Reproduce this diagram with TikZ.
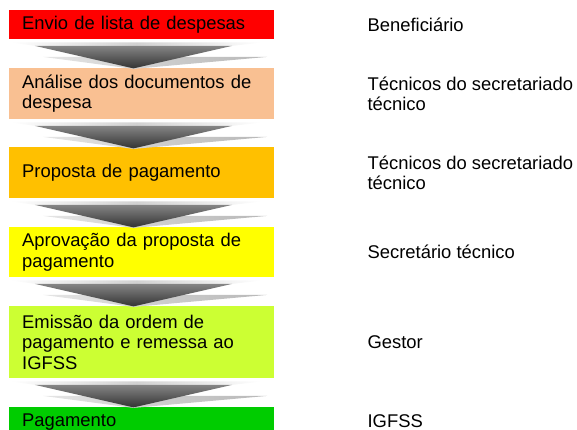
\documentclass[tikz,border=0pt]{standalone}
\usepackage{fontspec}
\setmainfont{Liberation Sans}
\usetikzlibrary{calc}
\definecolor{cRed}{HTML}{FF0000}
\definecolor{cPeach}{HTML}{F9C092}
\definecolor{cOrange}{HTML}{FFC000}
\definecolor{cYellow}{HTML}{FFFF00}
\definecolor{cLime}{HTML}{CCFF33}
\definecolor{cGreen}{HTML}{00CC00}
\tikzset{
  box/.style={rectangle, anchor=north west, minimum width=265pt, text width=239pt,
    inner xsep=13pt, inner ysep=0pt, align=left, draw=none,
    font=\fontsize{18.4}{20.7}\selectfont, text=black},
  role/.style={anchor=west, inner sep=0pt, align=left,
    font=\fontsize{18.4}{20.7}\selectfont, text=black},
}
\newcommand\chev[1]{%
  \shade[left color=white, right color=white, middle color=black!18]
    ($(#1.south west)+(1,3)$) -- ($(#1.south west)+(254,3)$) --
    ($(#1.south west)+(223,6.5)$) -- ($(#1.south west)+(26,6.5)$) -- cycle;
  \shade[left color=black!10, right color=black!28]
    ($(#1.south west)+(34,17.5)$) -- ($(#1.south west)+(258,17.5)$) --
    ($(#1.south west)+(124.5,29.5)$) -- cycle;
  \shade[top color=black!48, bottom color=black!80]
    ($(#1.south west)+(26,6.5)$) -- ($(#1.south west)+(223,6.5)$) --
    ($(#1.south west)+(124.5,29)$) -- cycle;
}
\begin{document}
\begin{tikzpicture}[x=1pt, y=-1pt]
\useasboundingbox (0,0) rectangle (577,430);
\clip (0,0) rectangle (577,430);
\node[box, fill=cRed, minimum height=29pt] (b1) at (9,10) {Envio de lista de despesas};
\node[box, fill=cPeach, minimum height=51pt] (b2) at (9,68) {Análise dos documentos de\\despesa};
\node[box, fill=cOrange, minimum height=51pt] (b3) at (9,147) {Proposta de pagamento};
\node[box, fill=cYellow, minimum height=50pt] (b4) at (9,227) {Aprovação da proposta de\\pagamento};
\node[box, fill=cLime, minimum height=72pt] (b5) at (9,306) {Emissão da ordem de\\pagamento e remessa ao\\IGFSS};
\node[box, fill=cGreen, minimum height=30pt] (b6) at (9,407) {Pagamento};
\chev{b1}
\chev{b2}
\chev{b3}
\chev{b4}
\chev{b5}
\node[role] (r1) at ($(b1.east)+(93,0)$) {Beneficiário};
\node[role] (r2) at ($(b2.east)+(93,0)$) {Técnicos do secretariado\\técnico};
\node[role] (r3) at ($(b3.east)+(93,0)$) {Técnicos do secretariado\\técnico};
\node[role] (r4) at ($(b4.east)+(93,0)$) {Secretário técnico};
\node[role] (r5) at ($(b5.east)+(93,0)$) {Gestor};
\node[role] (r6) at ($(b6.east)+(93,-1.5)$) {IGFSS};
\end{tikzpicture}
\end{document}
